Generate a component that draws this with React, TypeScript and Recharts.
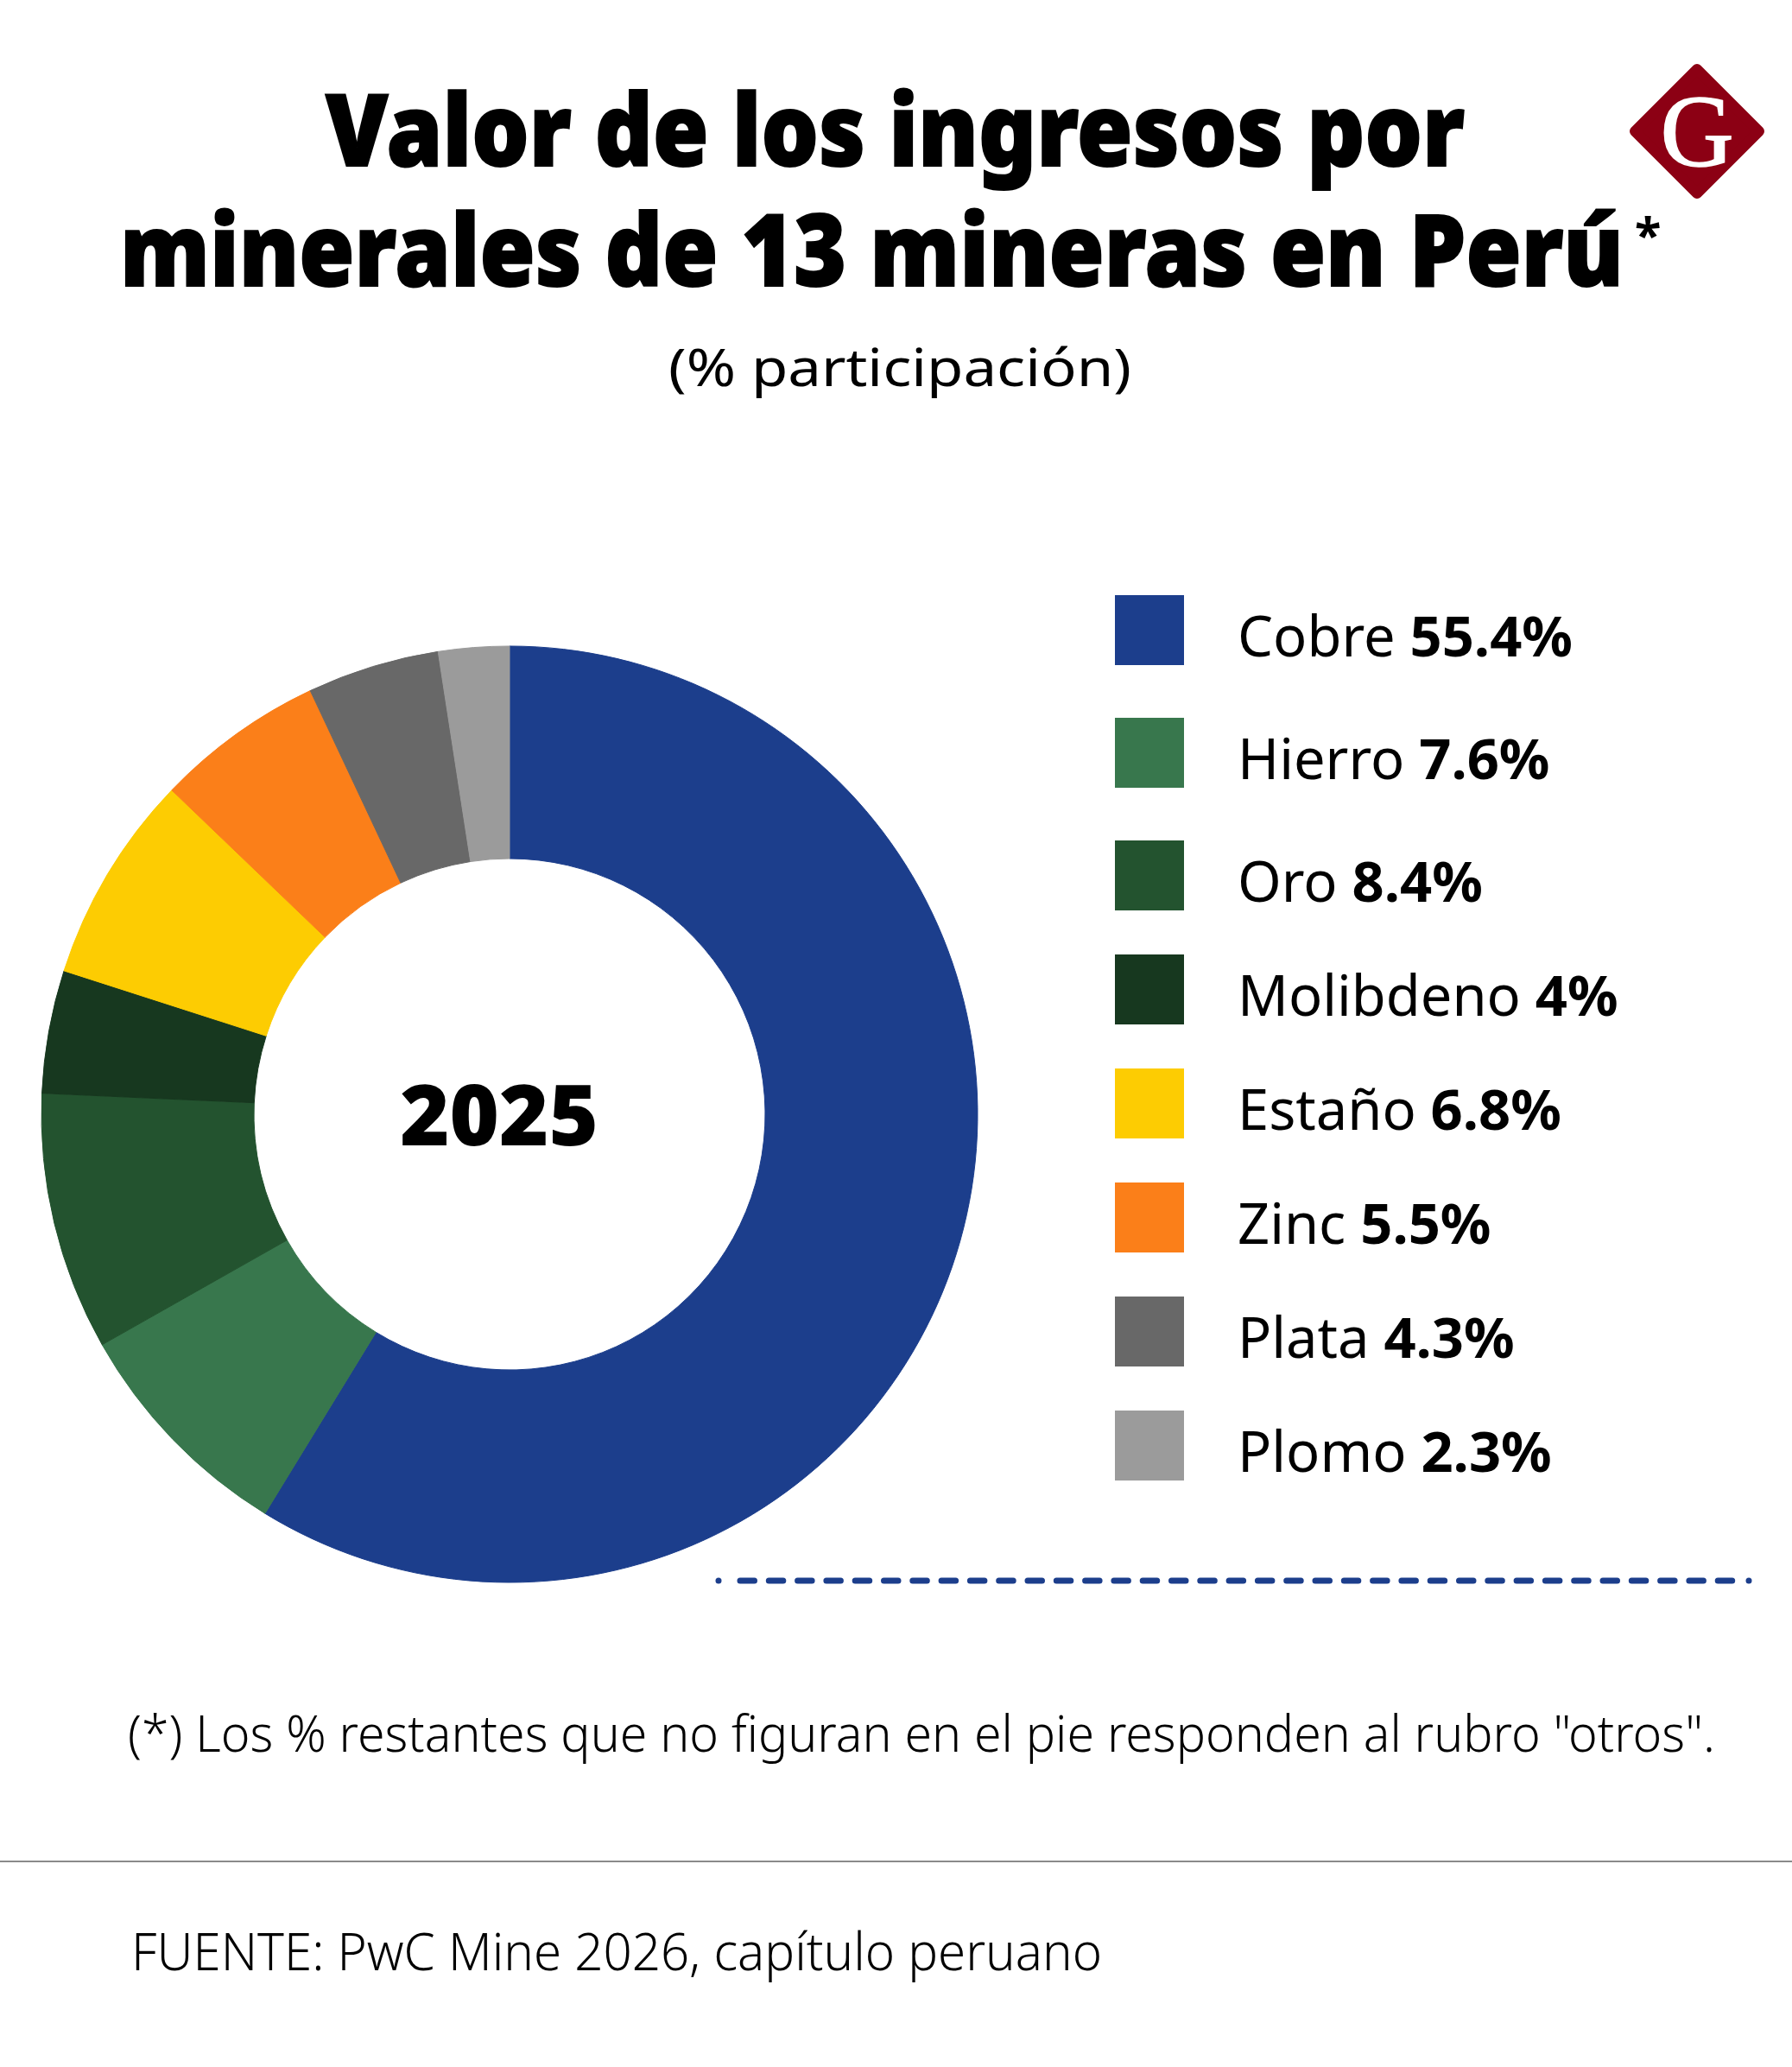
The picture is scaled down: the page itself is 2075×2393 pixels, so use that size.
import React from "react";
import { PieChart, Pie, Cell } from "recharts";

const minerals = ["Cobre", "Hierro", "Oro", "Molibdeno", "Estaño", "Zinc", "Plata", "Plomo"];
const shares = [55.4, 7.6, 8.4, 4, 6.8, 5.5, 4.3, 2.3];
const colors = ["#1c3e8c", "#38774d", "#23532f", "#17381f", "#fdcc02", "#fb7f19", "#686868", "#9b9b9b"];
const titleLines = ["Valor de los ingresos por", "minerales de 13 mineras en Perú"];
const subtitle = "(% participación)";
const centerLabel = "2025";
const footnote = "(*) Los % restantes que no figuran en el pie responden al rubro \"otros\".";
const source = "FUENTE: PwC Mine 2026, capítulo peruano";

const data = minerals.map((name, i) => ({ name, value: shares[i] }));

const W = 2075;
const H = 2393;
const FONT = "'Noto Sans', 'Open Sans', sans-serif";

export default function App() {
  const legendTop = 689;
  const rowTop = (i: number) => legendTop + i * 132 + Math.min(i, 2) * 10;
  return (
    <div style={{ position: "relative", width: W, height: H, background: "#ffffff", overflow: "hidden" }}>
      <style>{`body{margin:0;}`}</style>
      <div style={{ position: "absolute", left: 0, top: 690 }}>
        <PieChart width={1200} height={1200} margin={{ top: 0, right: 0, bottom: 0, left: 0 }}>
          <Pie
            data={data}
            dataKey="value"
            nameKey="name"
            cx={590}
            cy={600}
            innerRadius={296}
            outerRadius={542}
            startAngle={90}
            endAngle={-270}
            paddingAngle={0}
            isAnimationActive={false}
            label={false}
            labelLine={false}
          >
            {data.map((d, i) => (
              <Cell key={d.name} fill={colors[i]} stroke={colors[i]} strokeWidth={1} />
            ))}
          </Pie>
        </PieChart>
      </div>
      <svg
        width={W}
        height={H}
        style={{ position: "absolute", left: 0, top: 0, pointerEvents: "none" }}
      >
        {/* Title */}
        <text
          x={377}
          y={192}
          fontFamily={FONT}
          fontWeight={900}
          fontSize={116}
          fill="#000"
          stroke="#000"
          strokeWidth={2}
          textLength={1319}
          lengthAdjust="spacingAndGlyphs"
        >
          {titleLines[0]}
        </text>
        <text
          x={139}
          y={331}
          fontFamily={FONT}
          fontWeight={900}
          fontSize={116}
          fill="#000"
          stroke="#000"
          strokeWidth={2}
          textLength={1741}
          lengthAdjust="spacingAndGlyphs"
        >
          {titleLines[1]}
        </text>
        <text x={1893} y={292} fontFamily={FONT} fontWeight={700} fontSize={56} fill="#000">
          *
        </text>
        {/* Subtitle */}
        <text
          x={774}
          y={447}
          fontFamily={FONT}
          fontWeight={400}
          fontSize={60}
          fill="#000"
          textLength={536}
          lengthAdjust="spacingAndGlyphs"
        >
          {subtitle}
        </text>
        {/* Logo */}
        <polygon
          points="1965,80 2037,152 1965,224 1893,152"
          fill="#8c0014"
          stroke="#8c0014"
          strokeWidth={12}
          strokeLinejoin="round"
        />
        <text
          x={1965}
          y={192}
          textAnchor="middle"
          fontFamily="'Liberation Serif', 'DejaVu Serif', serif"
          fontSize={118}
          fill="#ffffff"
          stroke="#ffffff"
          strokeWidth={1.5}
        >
          G
        </text>
        {/* Center label */}
        <text
          x={578}
          y={1326}
          textAnchor="middle"
          fontFamily={FONT}
          fontWeight={900}
          fontSize={98}
          fill="#000"
        >
          {centerLabel}
        </text>
        {/* Legend */}
        {minerals.map((name, i) => {
          const top = rowTop(i);
          return (
            <g key={name}>
              <rect x={1291} y={top} width={80} height={81} fill={colors[i]} />
              <text x={1433} y={top + 71} fontFamily={FONT} fontSize={65} fill="#000">
                <tspan fontWeight={400}>{name} </tspan>
                <tspan fontWeight={700}>{`${shares[i]}%`}</tspan>
              </text>
            </g>
          );
        })}
        {/* Dashed divider */}
        <circle cx={832} cy={1830} r={3.5} fill="#1c3e8c" />
        <line
          x1={857}
          y1={1830}
          x2={2007}
          y2={1830}
          stroke="#1c3e8c"
          strokeWidth={7}
          strokeLinecap="round"
          strokeDasharray="16.5 16.8"
        />
        <circle cx={2025} cy={1830} r={3.5} fill="#1c3e8c" />
        {/* Footnote */}
        <text
          x={148}
          y={2028}
          fontFamily={FONT}
          fontWeight={300}
          fontSize={58}
          fill="#000"
          textLength={1838}
          lengthAdjust="spacingAndGlyphs"
        >
          {footnote}
        </text>
        <line x1={0} y1={2155} x2={W} y2={2155} stroke="#8a8a8a" strokeWidth={2} />
        <text
          x={152}
          y={2281}
          fontFamily={FONT}
          fontWeight={300}
          fontSize={60}
          fill="#000"
          textLength={1124}
          lengthAdjust="spacingAndGlyphs"
        >
          {source}
        </text>
      </svg>
    </div>
  );
}
